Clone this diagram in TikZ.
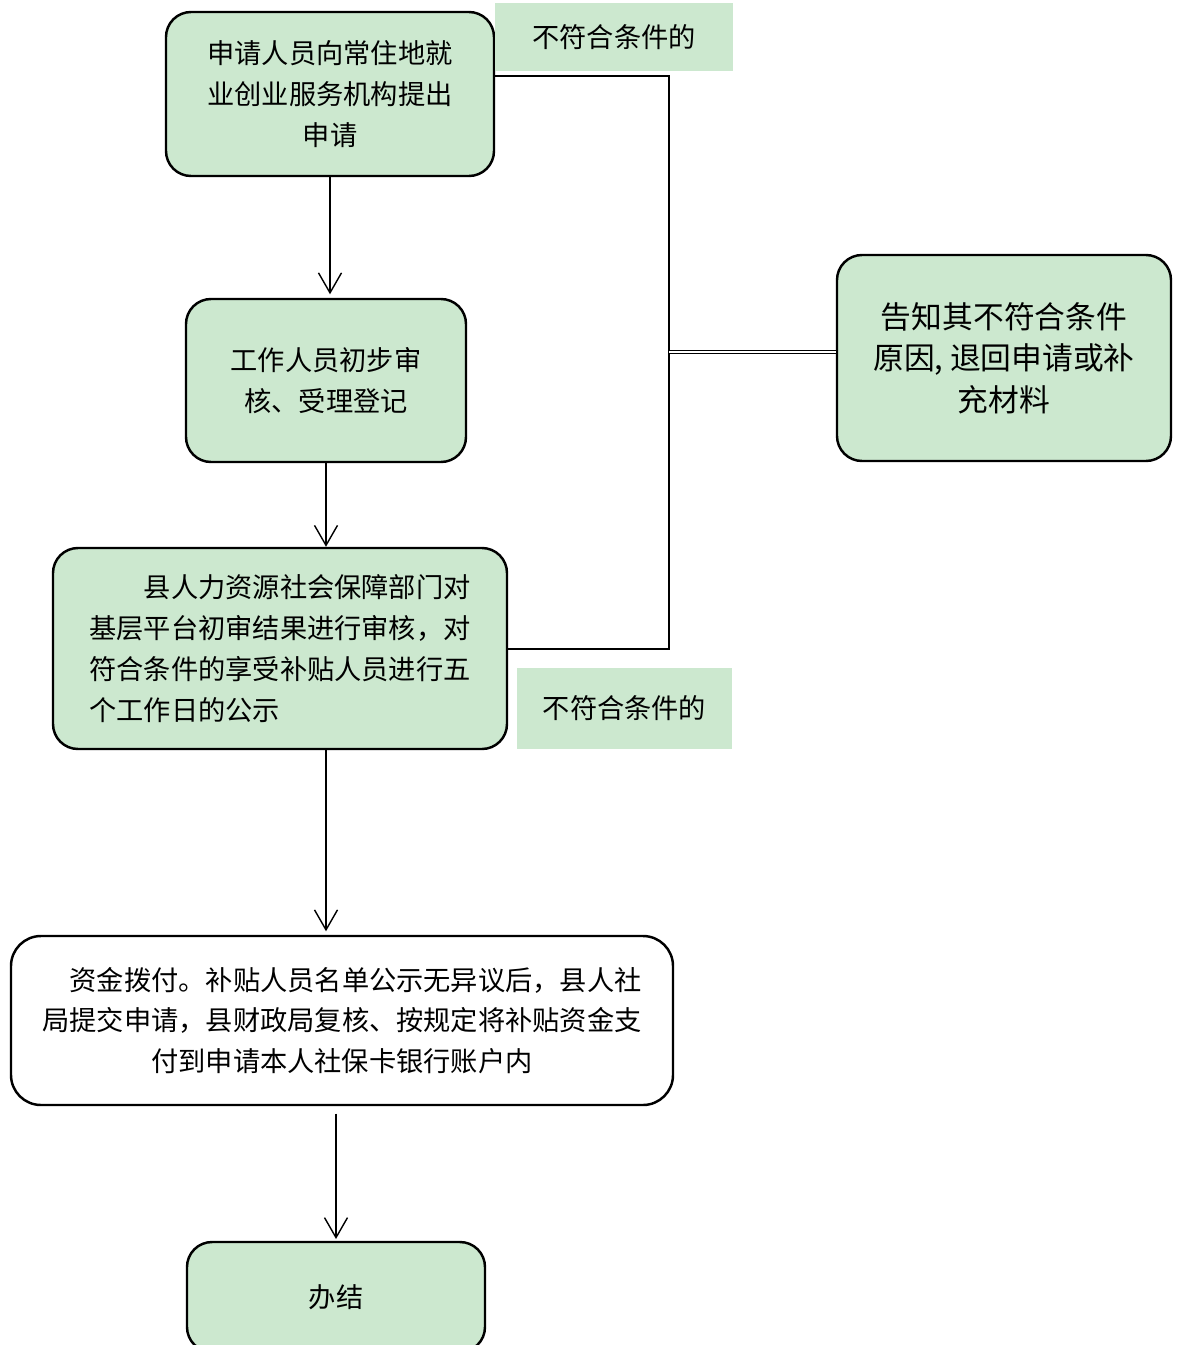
\documentclass[tikz,border=0pt]{standalone}
\usepackage{fontspec}
\newfontfamily\cjk{Noto Sans CJK SC}
\usetikzlibrary{arrows.meta,positioning}
\definecolor{boxg}{RGB}{204,232,207}

\begin{document}
\begin{tikzpicture}[
  step box/.style={draw, line width=1.4pt, rounded corners=0.5cm, fill=boxg, align=center,
    font=\cjk\fontsize{15.5}{23.2}\selectfont, inner sep=0pt},
  tag/.style={fill=boxg, font=\cjk\fontsize{15.5}{20}\selectfont, inner sep=0pt},
  flow/.style={line width=0.8pt, -{Straight Barb[length=0.4cm, width=0.46cm, line width=0.8pt]}},
  link/.style={line width=0.8pt},
]
  \useasboundingbox (0,0) rectangle (23.68,-26.9);
  % --- main column ---
  \node[step box, minimum width=6.56cm, minimum height=3.28cm] (apply) at (6.60,-1.88)
    {申请人员向常住地就\\业创业服务机构提出\\申请};
  \node[step box, minimum width=5.60cm, minimum height=3.26cm] (check) at (6.52,-7.61)
    {工作人员初步审\\核、受理登记};
  \node[step box, minimum width=9.08cm, minimum height=4.02cm, align=left] (review) at (5.60,-12.97)
    {\hspace*{2em}县人力资源社会保障部门对\\基层平台初审结果进行审核，对\\符合条件的享受补贴人员进行五\\个工作日的公示};
  \node[step box, fill=white, rounded corners=0.6cm, minimum width=13.24cm, minimum height=3.38cm] (pay) at (6.84,-20.41)
    {\hspace*{1em}资金拨付。补贴人员名单公示无异议后，县人社\\局提交申请，县财政局复核、按规定将补贴资金支\\付到申请本人社保卡银行账户内};
  \node[step box, minimum width=5.96cm, minimum height=2.2cm] (done) at (6.72,-25.94) {办结};
  % --- rejection ---
  \node[step box, minimum width=6.68cm, minimum height=4.12cm, font=\cjk\fontsize{17.5}{23.6}\selectfont] (notice) at (20.08,-7.16)
    {告知其不符合条件\\原因, 退回申请或补\\充材料};
  \node[tag, minimum width=4.76cm, minimum height=1.36cm] (tagtop) at (12.28,-0.74) {不符合条件的};
  \node[tag, minimum width=4.30cm, minimum height=1.62cm] (tagbot) at (12.49,-14.17) {不符合条件的};
  % --- connectors ---
  \draw[flow] (apply.south) -- ([yshift=2pt]apply.south |- check.north);
  \draw[flow] (check.south) -- (check.south |- review.north);
  \draw[flow] (check.south |- review.south) -- ([yshift=2pt]check.south |- pay.north);
  \draw[flow] ([yshift=-0.15cm]done.north |- pay.south) -- ([yshift=1pt]done.north);
  \coordinate (top) at (13.38,-1.52);
  \coordinate (mid) at (13.38,-7.04);
  \coordinate (bot) at (13.38,-12.98);
  \draw[link] (apply.east |- top) -- (top) -- (bot) -- (review.east |- bot);
  \draw[link, double, double distance=1.2pt, line width=0.6pt] (mid) -- (mid -| notice.west);
\end{tikzpicture}
\end{document}
